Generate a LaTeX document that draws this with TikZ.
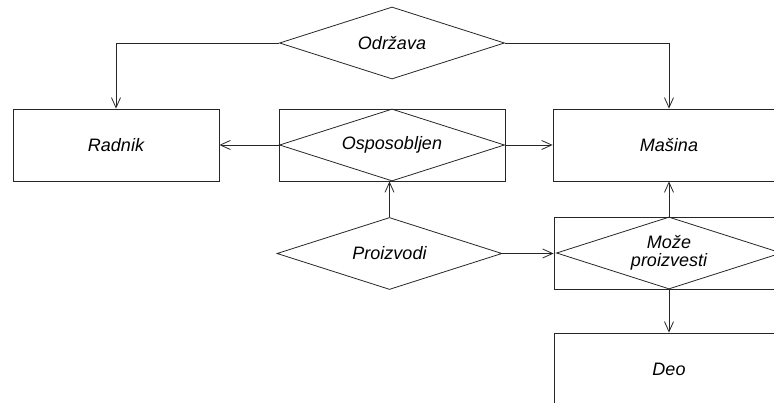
\documentclass[tikz,border=0pt]{standalone}
\usepackage{fontspec}
\setmainfont{Liberation Sans}
\usetikzlibrary{shapes.geometric,arrows.meta}
\tikzset{
  ink/.style={draw=black!85, line width=0.8pt},
  entity/.style={ink, rectangle, inner sep=0pt, minimum width=#1, minimum height=72pt, font=\fontsize{18}{18}\selectfont\itshape},
  entity/.default=206pt,
  relation/.style={ink, diamond, aspect=3.125, inner sep=0pt, minimum width=225pt, minimum height=72pt,
    align=center, font=\fontsize{18}{18}\selectfont\itshape},
  link/.style={ink, -{Straight Barb[length=10pt,width=9pt,line width=0.8pt]}}
}
\begin{document}
\begin{tikzpicture}[x=1pt,y=-1pt]
\useasboundingbox (0,0) rectangle (774,403);
\clip (0,0) rectangle (774,403);

% entities
\node[entity=206pt] (radnik) at (116,145) {Radnik};
\node[entity=232pt] (masina) at (669,145) {Mašina};
\node[entity=230pt] (deo) at (669,369) {Deo};

% relationships
\node[relation] (odr) at (392,43) {Održava};
\node[entity=226pt] (ospbox) at (392,145) {};
\node[relation] (osp) at (392,145) {Osposobljen};
\node[relation] (pz) at (389.5,253.5) {Proizvodi};
\node[entity=230pt] (mozebox) at (669,253) {};
\node[relation] (moze) at (669,253) {Može\\proizvesti};

% connectors
\draw[link] (odr.west) -| (radnik.north);
\draw[link] (odr.east) -| (masina.north);
\draw[link] (osp.west) -- (radnik.east);
\draw[link] (osp.east) -- (masina.west);
\draw[link] (pz.north) -- (pz.north |- ospbox.south);
\draw[link] (pz.east) -- (mozebox.west |- pz.east);
\draw[link] (moze.north) -- (masina.south);
\draw[link] (moze.south) -- (deo.north);
\end{tikzpicture}
\end{document}
